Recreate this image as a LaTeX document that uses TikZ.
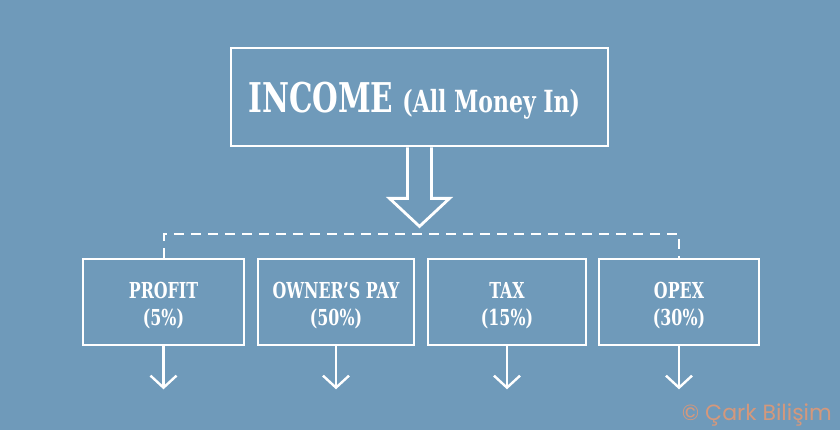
\documentclass[tikz,border=0pt]{standalone}
\usepackage{fontspec}
\setmainfont{DejaVu Serif}[FakeStretch=0.72]
\newfontfamily\wmfont{Poppins}
\usetikzlibrary{calc,arrows.meta}
\definecolor{bg}{RGB}{111,154,186}
\definecolor{wm}{RGB}{212,152,124}
\begin{document}
\begin{tikzpicture}[x=1pt,y=-1pt,
  catbox/.style={draw=white,line width=2.6pt,minimum width=#1,minimum height=86pt,inner sep=0pt},
  cattext/.style={text=white,align=center,inner sep=0pt,font=\bfseries\fontsize{22}{27}\selectfont},
  flow/.style={draw=white,line width=2.4pt,-{Straight Barb[length=12pt,width=26pt,line width=2.4pt]}},
  bus/.style={draw=white,line width=2pt,dash pattern=on 10pt off 7pt}]
\fill[bg] (0,0) rectangle (840,430);
\useasboundingbox (0,0) rectangle (840,430);
% income box
\node[draw=white,line width=2.8pt,minimum width=377pt,minimum height=98pt,inner sep=0pt] (inc) at (419.5,97) {};
\node[anchor=base west,text=white,inner sep=0pt] (inctxt) at (248,113)
  {\bfseries\fontsize{41}{41}\selectfont INCOME\hspace{9pt}\fontsize{30.5}{31}\selectfont(All Money In)};
% hollow arrow
\draw[white,line width=2.8pt,line join=miter]
  ($(inc.south)+(-12,0)$) -- ++(0,51) -- ++(-18,0) -- ($(inc.south)+(0,79)$) -- ($(inc.south)+(30,51)$) -- ++(-18,0) -- ($(inc.south)+(12,0)$);
% category boxes
\node[catbox=161pt] (p) at (163.5,302) {};
\node[catbox=156pt] (w) at (336,302) {};
\node[catbox=158pt] (t) at (507,302) {};
\node[catbox=160pt] (o) at (679,302) {};
\node[cattext,anchor=base] (pt) at (163.5,325) {PROFIT\\(5\%)};
\node[cattext,anchor=base] (wt) at (336,325) {OWNER'S PAY\\(50\%)};
\node[cattext,anchor=base] (tt) at (507,325) {TAX\\(15\%)};
\node[cattext,anchor=base] (ot) at (679,325) {OPEX\\(30\%)};
\coordinate (busy) at (420,234);
\draw[bus] (p.north) -- (p.north |- busy) -- (o.north |- busy) -- (o.north);
% outgoing arrows
\coordinate (pe) at ($(p.south)+(0,43)$);
\coordinate (we) at ($(w.south)+(0,43)$);
\coordinate (te) at ($(t.south)+(0,43)$);
\coordinate (oe) at ($(o.south)+(0,43)$);
\draw[flow] (p.south) -- (pe);
\draw[flow] (w.south) -- (we);
\draw[flow] (t.south) -- (te);
\draw[flow] (o.south) -- (oe);
% watermark
\node[anchor=base east,inner sep=0pt,text=wm,font=\wmfont\fontsize{22}{22}\selectfont] (wmk) at (832,420) {© Çark Bilişim};
\end{tikzpicture}
\end{document}
